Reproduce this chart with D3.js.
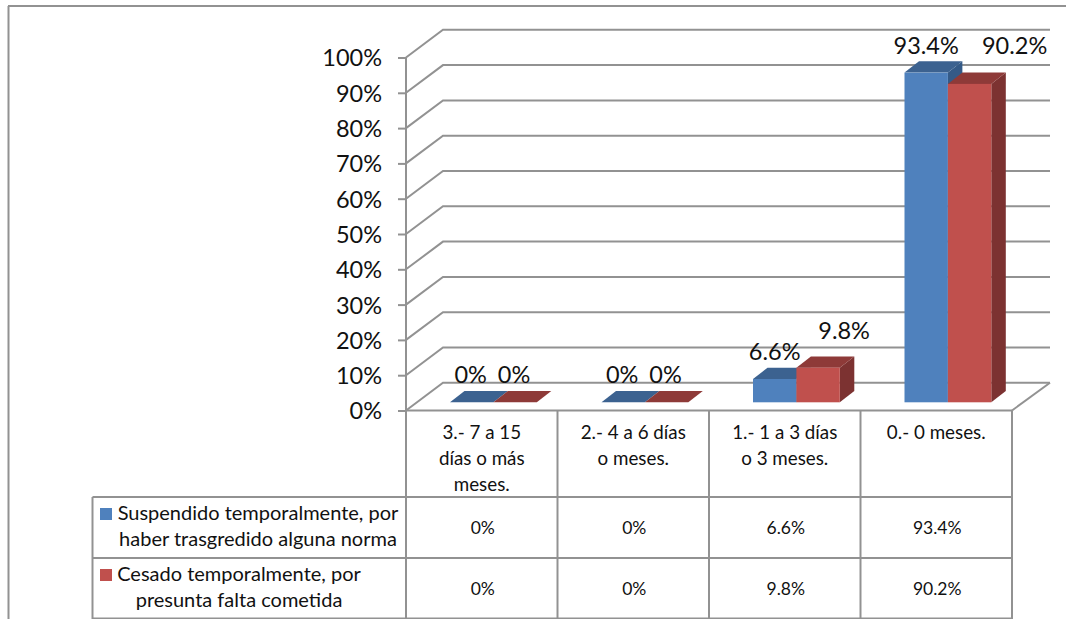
<!DOCTYPE html>
<html>
<head>
<meta charset="utf-8">
<script src="https://cdn.jsdelivr.net/npm/d3@7/dist/d3.min.js"></script>
<style>
html,body{margin:0;padding:0;background:#fff}
svg{display:block}
text{font-family:Lato,"Open Sans",sans-serif;fill:#111}
</style>
</head>
<body>
<svg id="chart" width="1066" height="619"></svg>
<script>
// Chart data
const categories = ["3.- 7 a 15 días o más meses.", "2.- 4 a 6 días o meses.", "1.- 1 a 3 días o 3 meses.", "0.- 0 meses."];
const categoryLines = [["3.- 7 a 15", "días o más", "meses."], ["2.- 4 a 6 días", "o meses."], ["1.- 1 a 3 días", "o 3 meses."], ["0.- 0 meses."]];
const suspendido = [0, 0, 6.6, 93.4];
const cesado = [0, 0, 9.8, 90.2];
const seriesNames = ["suspendido", "cesado"];
const seriesLabels = [["Suspendido temporalmente, por", "haber trasgredido alguna norma"], ["Cesado temporalmente, por", "presunta falta cometida"]];
const yTicks = [0, 10, 20, 30, 40, 50, 60, 70, 80, 90, 100];

const seriesValues = [suspendido, cesado];
const fmt = v => v + "%";

// Face colours for each series
const faces = [
  {front: "#4f81bd", top: "#3c6290", side: "#345a87"},
  {front: "#c0504d", top: "#8e3a38", side: "#7c3231"}
];
const gridColor = "#929292";

// Layout
const plotLeft = 406, plotRight = 1012, floorY = 410.5, topY = 57.5;
const wallDx = 37, wallDy = -27.7;       // depth of the chart box
const barDx = 14.5, barDy = -11.3;       // depth of one bar
const barLift = -8.2;                    // bars stand in the middle of the floor
const svg = d3.select("#chart");

const y = d3.scaleLinear().domain([0, 100]).range([floorY, topY]);
const x0 = d3.scaleBand().domain(d3.range(categories.length)).range([plotLeft, plotRight]);
const x1 = d3.scaleBand().domain(seriesNames).range([44, 44 + 86.8]);

const line = (g, x1p, y1p, x2p, y2p, w = 2) => g.append("line")
  .attr("x1", x1p).attr("y1", y1p).attr("x2", x2p).attr("y2", y2p)
  .attr("stroke", gridColor).attr("stroke-width", w);

// Outer frame: left and top edges
const frame = svg.append("g");
line(frame, 8.5, 6, 8.5, 619);
line(frame, 8, 6, 1066, 6);

// Back wall gridlines with their slanted run along the side wall
const grid = svg.append("g");
grid.selectAll("path").data(yTicks).join("path")
  .attr("fill", "none").attr("stroke", gridColor).attr("stroke-width", 2)
  .attr("d", d => `M${plotLeft},${y(d)}L${plotLeft + wallDx},${y(d) + wallDy}L1050,${y(d) + wallDy}`);
// Right edge of the floor
line(grid, plotRight, floorY, 1050, floorY + wallDy);

// Value axis
const axis = svg.append("g").attr("transform", `translate(${plotLeft},0)`)
  .call(d3.axisLeft(y).tickValues(yTicks).tickFormat(fmt).tickSize(8).tickPadding(16));
axis.selectAll("path.domain").attr("stroke", gridColor).attr("stroke-width", 2).attr("d", `M0,${topY}V${floorY}`);
axis.selectAll(".tick line").attr("stroke", gridColor).attr("stroke-width", 2);
axis.selectAll(".tick text").style("font-size", "23.5px").attr("fill", "#111").attr("dy", "0.36em");

// Floor front edge
line(svg, plotLeft, floorY, plotRight, floorY);

// Bars as three visible faces
const bars = svg.append("g");
categories.forEach((c, i) => {
  seriesNames.forEach((s, k) => {
    const v = seriesValues[k][i];
    const xl = x0(i) + x1(s), w = x1.bandwidth();
    const yb = y(0) + barLift, yt = y(v) + barLift;
    const g = bars.append("g").attr("class", "bar");
    g.append("path").attr("fill", faces[k].side)
      .attr("d", `M${xl + w},${yt}L${xl + w + barDx},${yt + barDy}V${yb + barDy}L${xl + w},${yb}Z`);
    g.append("path").attr("fill", faces[k].top)
      .attr("d", `M${xl},${yt}L${xl + barDx},${yt + barDy}H${xl + w + barDx}L${xl + w},${yt}Z`);
    g.append("rect").attr("fill", faces[k].front)
      .attr("x", xl).attr("y", yt).attr("width", w).attr("height", yb - yt);
  });
});

// Data labels, with hand nudges for the ones moved clear of the bars
const labelNudge = [
  [[-1, -19], [-1, -19], [0, -19], [0, -19]],
  [[-1, -19], [-1, -19], [26, -29], [45, -30]]
];
const labels = svg.append("g").attr("text-anchor", "middle").style("font-size", "23.5px");
seriesNames.forEach((s, k) => {
  labels.selectAll(`text.${s}`).data(seriesValues[k]).join("text")
    .attr("class", s)
    .attr("x", (d, i) => x0(i) + x1(s) + x1.bandwidth() / 2 + labelNudge[k][i][0])
    .attr("y", (d, i) => y(d) + barLift + labelNudge[k][i][1])
    .text(fmt);
});

// Data table below the plot
const table = svg.append("g");
const rowY = [497, 558, 618.5];
x0.domain().forEach(i => line(table, x0(i), floorY, x0(i), 619));
line(table, plotRight, floorY, plotRight, 619);
line(table, 92.5, rowY[0], 92.5, 619);
rowY.forEach(r => line(table, 92.5, r, plotRight, r));

const catText = table.append("g").attr("text-anchor", "middle").style("font-size", "18.8px");
categoryLines.forEach((lines, i) => {
  lines.forEach((t, j) => {
    catText.append("text")
      .attr("x", x0(i) + x0.bandwidth() / 2)
      .attr("y", 439 + j * 26)
      .text(t);
  });
});

// Legend keys and value rows
seriesNames.forEach((s, k) => {
  const rowTop = rowY[k];
  table.append("rect").attr("x", 100).attr("y", rowTop + 11).attr("width", 12).attr("height", 12)
    .attr("fill", faces[k].front);
  const cx = k === 0 ? 258 : 239;
  seriesLabels[k].forEach((t, j) => {
    table.append("text").attr("x", cx).attr("y", rowTop + 22.5 + j * 26)
      .attr("text-anchor", "middle").style("font-size", "20px").text(t);
  });
  seriesValues[k].forEach((v, i) => {
    table.append("text").attr("x", x0(i) + x0.bandwidth() / 2 + 1).attr("y", rowTop + 37)
      .attr("text-anchor", "middle").style("font-size", "17.5px").text(fmt(v));
  });
});
</script>
</body>
</html>
